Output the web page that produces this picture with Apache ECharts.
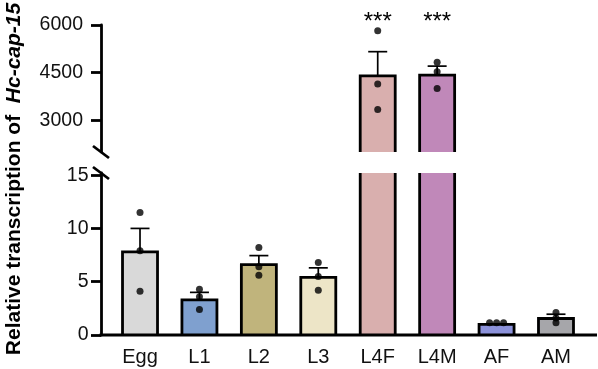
<!DOCTYPE html>
<html>
<head>
<meta charset="utf-8">
<script src="https://cdn.jsdelivr.net/npm/echarts@6/dist/echarts.min.js"></script>
<style>
html, body { margin: 0; padding: 0; background: #fff; }
#main { width: 598px; height: 369px; }
</style>
</head>
<body>
<div id="main"></div>
<script>
// 各阶段数据
var stages = ['Egg', 'L1', 'L2', 'L3', 'L4F', 'L4M', 'AF', 'AM'];
var means = [7.8, 3.3, 6.6, 5.4, 4400, 4420, 1.0, 1.55];
var sems = [2.2, 0.7, 0.85, 0.9, 760, 285, 0.03, 0.4];
var reps = [
    [11.5, 7.9, 4.1],
    [4.3, 3.6, 2.4],
    [8.2, 6.4, 5.6],
    [6.8, 5.5, 4.2],
    [5820, 4140, 3340],
    [4830, 4525, 4000],
    [1.15, 1.15, 1.15],
    [2.1, 1.6, 1.15]
];
var stars = ['', '', '', '', '***', '***', '', ''];
var lowTicks = [0, 5, 10, 15];
var highTicks = [3000, 4500, 6000];

var colors = ['#d9d9d9', '#7fa0cf', '#c0b47c', '#ede5c7', '#d9afae', '#c088b9', '#8c92da', '#a6a6aa'];

// layout
var FONT = '"Liberation Sans", Arial, sans-serif';
var LOW_MAX = 15.2, HIGH_MIN = 2000, HIGH_MAX = 6000;
var GRID_LEFT = 110.3, GRID_RIGHT = 12.3;
var AXIS_X = 101;
var BASE_Y = 335;
var BAR_W = 35;
var LW = 2.8;

var chart = echarts.init(document.getElementById('main'));

function barRender(lo) {
    return function (params, api) {
        var i = api.value(0), v = api.value(1);
        if (v <= lo) return null;
        var cs = params.coordSys;
        var top = api.coord([i, v]);
        var cx = top[0], l = cx - BAR_W / 2, r = cx + BAR_W / 2;
        var bot = cs.y + cs.height;
        var clipped = top[1] < cs.y;
        var yTop = clipped ? cs.y : top[1];
        var kids = [{
            type: 'rect',
            shape: { x: l, y: yTop, width: BAR_W, height: bot - yTop },
            style: { fill: colors[i] }
        }];
        if (clipped) {
            kids.push({ type: 'line', shape: { x1: l, y1: yTop, x2: l, y2: bot }, style: { stroke: '#000', lineWidth: LW } });
            kids.push({ type: 'line', shape: { x1: r, y1: yTop, x2: r, y2: bot }, style: { stroke: '#000', lineWidth: LW } });
        } else {
            kids.push({
                type: 'polyline',
                shape: { points: [[l, bot], [l, yTop], [r, yTop], [r, bot]] },
                style: { stroke: '#000', lineWidth: LW, fill: null, lineJoin: 'miter' }
            });
        }
        return { type: 'group', children: kids };
    };
}

function errRender(params, api) {
    var i = api.value(0), m = api.value(1), s = api.value(2);
    var p0 = api.coord([i, m]), p1 = api.coord([i, m + s]);
    return {
        type: 'group',
        children: [
            { type: 'line', shape: { x1: p0[0], y1: p0[1], x2: p1[0], y2: p1[1] }, style: { stroke: '#000', lineWidth: 1.7 } },
            { type: 'line', shape: { x1: p1[0] - 9.5, y1: p1[1], x2: p1[0] + 9.5, y2: p1[1] }, style: { stroke: '#000', lineWidth: 1.7 } }
        ]
    };
}

function starRender(params, api) {
    var i = api.value(0);
    var s = stars[i];
    if (!s) return null;
    var p = api.coord([i, HIGH_MAX]);
    return {
        type: 'text',
        x: p[0], y: params.coordSys.y - 3,
        style: { text: s, fontSize: 24, fontFamily: FONT, fill: '#000', align: 'center', verticalAlign: 'middle' }
    };
}

var isHigh = means.map(function (v) { return v > HIGH_MIN; });

var barLow = [], barHigh = [], errLow = [], errHigh = [], dotLow = [], dotHigh = [], starData = [];
stages.forEach(function (s, i) {
    barLow.push([i, means[i]]);
    if (isHigh[i]) {
        barHigh.push([i, means[i]]);
        errHigh.push([i, means[i], sems[i]]);
        starData.push([i, HIGH_MAX]);
    } else {
        errLow.push([i, means[i], sems[i]]);
    }
    reps[i].forEach(function (v, k) {
        var item = { value: [i, v] };
        if (s === 'AF') item.symbolOffset = [(k - 1) * 7, 0];
        (isHigh[i] ? dotHigh : dotLow).push(item);
    });
});

function plain(v) { return String(v); }

chart.setOption({
    animation: false,
    backgroundColor: '#fff',
    grid: [
        { left: GRID_LEFT, right: GRID_RIGHT, top: 25, bottom: 217 },
        { left: GRID_LEFT, right: GRID_RIGHT, top: 173, bottom: 369 - BASE_Y }
    ],
    xAxis: [
        { type: 'category', gridIndex: 0, data: stages, show: false },
        {
            type: 'category', gridIndex: 1, data: stages,
            axisLine: { show: false },
            axisTick: { show: false },
            axisLabel: { fontSize: 20, fontFamily: FONT, color: '#111', margin: 12 }
        }
    ],
    yAxis: [
        {
            type: 'value', gridIndex: 0, min: HIGH_MIN, max: HIGH_MAX, offset: GRID_LEFT - AXIS_X,
            splitLine: { show: false },
            axisLine: { show: true, lineStyle: { color: '#000', width: LW } },
            axisTick: { show: true, length: 10, customValues: highTicks, lineStyle: { color: '#000', width: LW } },
            axisLabel: { customValues: highTicks, fontSize: 19.5, fontFamily: FONT, color: '#111', margin: 18, formatter: plain }
        },
        {
            type: 'value', gridIndex: 1, min: 0, max: LOW_MAX, offset: GRID_LEFT - AXIS_X,
            splitLine: { show: false },
            axisLine: { show: true, lineStyle: { color: '#000', width: LW } },
            axisTick: { show: true, length: 10, customValues: lowTicks, lineStyle: { color: '#000', width: LW } },
            axisLabel: { customValues: lowTicks, fontSize: 19.5, fontFamily: FONT, color: '#111', margin: 12.5, formatter: plain }
        }
    ],
    graphic: [
        // x axis baseline
        { type: 'line', z: 10, shape: { x1: AXIS_X - LW / 2, y1: BASE_Y, x2: 597, y2: BASE_Y }, style: { stroke: '#000', lineWidth: LW } },
        // axis break marks
        { type: 'line', z: 10, shape: { x1: 93, y1: 146, x2: 109, y2: 158 }, style: { stroke: '#000', lineWidth: LW } },
        { type: 'line', z: 10, shape: { x1: 93, y1: 167, x2: 109, y2: 179 }, style: { stroke: '#000', lineWidth: LW } },
        // y axis title
        {
            type: 'text', x: 14, y: 179, rotation: Math.PI / 2,
            style: {
                text: '{a|Relative transcription of  }{b|Hc-cap-15}',
                align: 'center', verticalAlign: 'middle',
                rich: {
                    a: { fontSize: 21, fontWeight: 'bold', fontFamily: FONT, fill: '#000' },
                    b: { fontSize: 21, fontWeight: 'bold', fontStyle: 'italic', fontFamily: FONT, fill: '#000' }
                }
            }
        }
    ],
    series: [
        { type: 'custom', xAxisIndex: 1, yAxisIndex: 1, renderItem: barRender(0), data: barLow, z: 2 },
        { type: 'custom', xAxisIndex: 0, yAxisIndex: 0, renderItem: barRender(HIGH_MIN), data: barHigh, z: 2 },
        { type: 'custom', xAxisIndex: 1, yAxisIndex: 1, renderItem: errRender, data: errLow, z: 3 },
        { type: 'custom', xAxisIndex: 0, yAxisIndex: 0, renderItem: errRender, data: errHigh, z: 3 },
        { type: 'scatter', xAxisIndex: 1, yAxisIndex: 1, data: dotLow, symbolSize: 7, itemStyle: { color: '#000' }, z: 4 },
        { type: 'scatter', xAxisIndex: 0, yAxisIndex: 0, data: dotHigh, symbolSize: 7, itemStyle: { color: '#000' }, z: 4 },
        { type: 'custom', xAxisIndex: 0, yAxisIndex: 0, renderItem: starRender, data: starData, clip: false, z: 5 }
    ]
});
</script>
</body>
</html>
